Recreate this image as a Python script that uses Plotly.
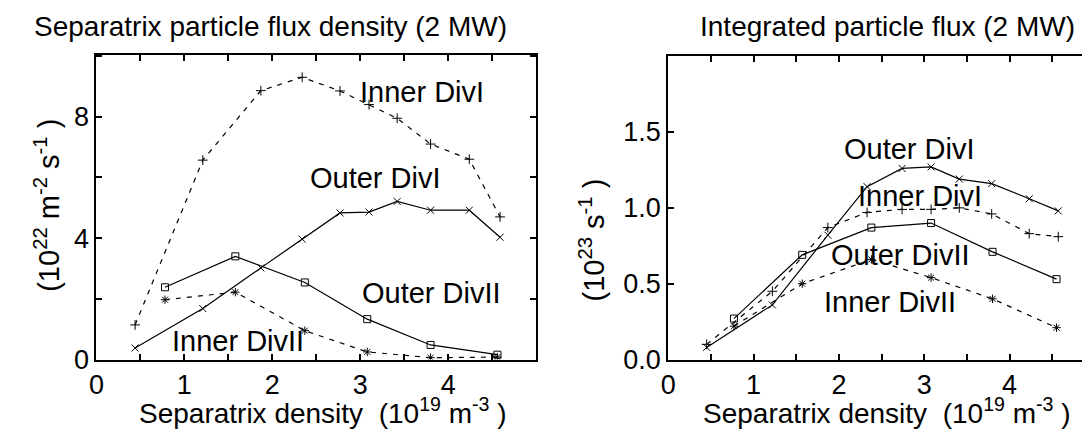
import plotly.graph_objects as go

# ---------------- data ----------------
# Left panel: separatrix particle flux density (10^22 m^-2 s^-1)
dens_div1 = [0.44, 1.21, 1.87, 2.34, 2.77, 3.10, 3.42, 3.80, 4.24, 4.59]
flux_outer_div1 = [0.38, 1.68, 3.02, 3.97, 4.83, 4.86, 5.21, 4.92, 4.92, 4.03]
flux_inner_div1 = [1.14, 6.57, 8.86, 9.30, 8.85, 8.40, 7.95, 7.10, 6.60, 4.70]

dens_div2 = [0.78, 1.58, 2.37, 3.08, 3.80, 4.56]
flux_outer_div2 = [2.38, 3.40, 2.54, 1.33, 0.48, 0.16]
flux_inner_div2 = [1.97, 2.22, 0.95, 0.25, 0.06, 0.08]

# Right panel: integrated particle flux (10^23 s^-1)
dens_int1 = [0.45, 1.22, 1.87, 2.33, 2.74, 3.08, 3.41, 3.79, 4.23, 4.57]
int_outer_div1 = [0.08, 0.36, 0.82, 1.14, 1.26, 1.27, 1.19, 1.16, 1.06, 0.98]
int_inner_div1 = [0.10, 0.45, 0.87, 0.97, 0.99, 0.99, 1.00, 0.96, 0.83, 0.81]

dens_int2 = [0.77, 1.57, 2.38, 3.08, 3.80, 4.55]
int_outer_div2 = [0.27, 0.69, 0.87, 0.90, 0.71, 0.53]
int_inner_div2 = [0.22, 0.50, 0.66, 0.54, 0.40, 0.21]

x_tickvals = [0, 0.5, 1, 1.5, 2, 2.5, 3, 3.5, 4, 4.5, 5]
x_ticktext = ["0", "", "1", "", "2", "", "3", "", "4", "", ""]
yl_tickvals = [0, 2, 4, 6, 8, 10]
yl_ticktext = ["0", "", "4", "", "8", ""]
yr_tickvals = [0, 0.5, 1.0, 1.5, 2.0]
yr_ticktext = ["0.0", "0.5", "1.0", "1.5", ""]

FONT = "Liberation Sans, Arial, Helvetica, sans-serif"
BLACK = "black"
DASH = "5px,6px"
NB = "\u00a0"

fig = go.Figure()

def add(x, y, dash, symbol, xa, ya):
    fig.add_trace(go.Scatter(
        x=x, y=y, mode="lines+markers", xaxis=xa, yaxis=ya,
        line=dict(color=BLACK, width=1.2, dash=dash),
        marker=dict(symbol=symbol, size=7, color=BLACK,
                    line=dict(color=BLACK, width=1)),
        showlegend=False, hoverinfo="skip"))

add(dens_div1, flux_inner_div1, DASH, "cross-thin-open", "x", "y")
add(dens_div1, flux_outer_div1, "solid", "x-thin-open", "x", "y")
add(dens_div2, flux_outer_div2, "solid", "square-open", "x", "y")
add(dens_div2, flux_inner_div2, DASH, "asterisk-open", "x", "y")

add(dens_int1, int_outer_div1, "solid", "x-thin-open", "x2", "y2")
add(dens_int1, int_inner_div1, DASH, "cross-thin-open", "x2", "y2")
add(dens_int2, int_outer_div2, "solid", "square-open", "x2", "y2")
add(dens_int2, int_inner_div2, DASH, "asterisk-open", "x2", "y2")

axis_common = dict(showline=True, linecolor=BLACK, linewidth=2, mirror="ticks",
                   ticks="inside", ticklen=6, tickwidth=1.5, tickcolor=BLACK,
                   showgrid=False, zeroline=False,
                   tickfont=dict(family=FONT, size=27, color=BLACK))

fig.update_layout(
    width=1090, height=438,
    margin=dict(l=0, r=0, t=0, b=0),
    paper_bgcolor="white", plot_bgcolor="white",
    font=dict(family=FONT, size=27, color=BLACK),
    xaxis=dict(domain=[0.0743, 0.4807], range=[0, 5], tickmode="array",
               tickvals=x_tickvals, ticktext=x_ticktext, anchor="y",
               ticklabelstandoff=0, **axis_common),
    yaxis=dict(domain=[0.169, 0.890], range=[0, 10.05], tickmode="array",
               tickvals=yl_tickvals, ticktext=yl_ticktext, anchor="x", **axis_common),
    xaxis2=dict(domain=[0.6028, 0.9972], range=[0, 5], tickmode="array",
                tickvals=x_tickvals, ticktext=x_ticktext, anchor="y2",
                ticklabelstandoff=0, **axis_common),
    yaxis2=dict(domain=[0.169, 0.886], range=[0, 2.0], tickmode="array",
                tickvals=yr_tickvals, ticktext=yr_ticktext, anchor="x2", **axis_common),
)

ann_font = dict(family=FONT, size=29, color=BLACK)

def lab(text, x, y, xref, yref):
    fig.add_annotation(text=text, x=x, y=y, xref=xref, yref=yref,
                       showarrow=False, font=ann_font, xanchor="center", yanchor="middle")

# curve labels (data coordinates)
lab("Inner DivI", 3.70, 8.83, "x", "y")
lab("Outer DivI", 3.17, 5.97, "x", "y")
lab("Outer DivII", 3.81, 2.19, "x", "y")
lab("Inner DivII", 1.61, 0.60, "x", "y")

lab("Outer DivI", 2.83, 1.39, "x2", "y2")
lab("Inner DivI", 2.95, 1.08, "x2", "y2")
lab("Outer DivII", 2.72, 0.69, "x2", "y2")
lab("Inner DivII", 2.60, 0.38, "x2", "y2")

# titles and axis titles (paper coordinates)
def ptext(text, x, y, angle=0, size=28, yanchor="middle"):
    fig.add_annotation(text=text, x=x, y=y, xref="paper", yref="paper",
                       showarrow=False, textangle=angle,
                       font=dict(family=FONT, size=size, color=BLACK),
                       xanchor="center", yanchor=yanchor)

xtitle = "Separatrix density" + NB + NB + "(10<sup>19</sup>" + NB + "m<sup>-3</sup>" + NB + ")"
ptext("Separatrix particle flux density (2 MW)", 256 / 1090, 1 - 19 / 438, size=28)
ptext("Integrated particle flux (2 MW)", 878 / 1090, 1 - 19 / 438, size=28)
ptext(xtitle, 309 / 1090, 0.0, size=28, yanchor="bottom")
ptext(xtitle, 877 / 1090, 0.0, size=28, yanchor="bottom")
ptext("(10<sup>22</sup>" + NB + "m<sup>-2</sup>" + NB + "s<sup>-1</sup>" + NB + ")",
      31 / 1090, 1 - 204 / 438, angle=-90, size=29)
ptext("(10<sup>23</sup>" + NB + "s<sup>-1</sup>" + NB + ")",
      580 / 1090, 1 - 240 / 438, angle=-90, size=29)

fig.write_html("out.html")
